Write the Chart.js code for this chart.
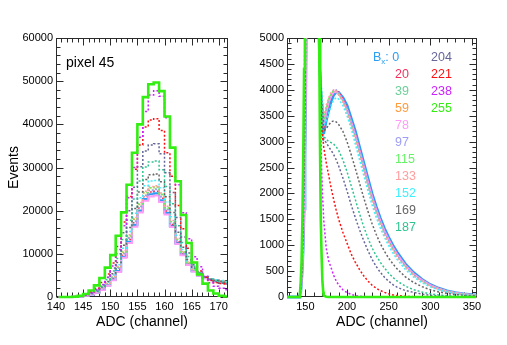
<!DOCTYPE html>
<html><head><meta charset="utf-8">
<script src="https://cdn.jsdelivr.net/npm/chart.js@4/dist/chart.umd.min.js"></script>
<style>
html,body{margin:0;padding:0;background:#fff;width:507px;height:345px;overflow:hidden;font-family:"Liberation Sans",Arial,Helvetica,sans-serif}
#c1{position:absolute;left:0;top:0}
#c2{position:absolute;left:250px;top:0}
.t{position:absolute;line-height:1;white-space:nowrap}
</style></head><body>
<canvas id="c1" width="250" height="345"></canvas>
<canvas id="c2" width="257" height="345"></canvas>
<div id="overlay"></div>
<script>
// ---------------- DATA ----------------
const bxLabels = ["0","20","39","59","78","97","115","133","152","169","187","204","221","238","255"];
// bin centres of the zoomed (left) histogram, ADC channels
const leftX = [140.5,141.5,142.5,143.5,144.5,145.5,146.5,147.5,148.5,149.5,150.5,151.5,152.5,153.5,154.5,155.5,156.5,157.5,158.5,159.5,160.5,161.5,162.5,163.5,164.5,165.5,166.5,167.5,168.5,169.5,170.5,171.5];
// tail sampling points of the full-range (right) histogram
const tailX = [172,175,178,181,184,187,190,195,200,205,210,215,220,225,230,235,240,245,250,255,260,270,280,290,300,310,320,330,340,350,355];
const startX = [128];
const startY = [0];

const left_b0   = [0,0,0,50,100,300,600,1000,1700,2700,4000,6000,9300,12800,16700,20000,22700,23800,24000,22400,19500,16500,12500,9800,7500,6000,5000,4400,4000,3800,3600,3400];
const left_b20  = [0,0,0,50,120,320,650,1100,1800,2900,4300,6400,9700,13300,17200,20600,23200,24300,24500,22900,19900,16800,12800,10000,7700,6100,5100,4500,4100,3800,3600,3400];
const left_b39  = [0,0,0,60,130,330,680,1150,1900,3000,4500,6700,10100,13700,17600,21000,23600,24800,25000,23300,20300,17100,13100,10200,7800,6200,5100,4500,4100,3900,3700,3500];
const left_b59  = [0,0,0,60,130,340,700,1200,1950,3100,4600,6900,10300,14000,18000,21400,24100,25300,25500,23700,20600,17400,13300,10300,7900,6300,5200,4600,4100,3900,3700,3500];
const left_b78  = [0,0,0,50,100,290,580,980,1650,2600,3900,5800,9100,12500,16300,19600,22300,23300,23500,22000,19100,16200,12300,9700,7400,5900,4900,4300,3950,3750,3550,3350];
const left_b97  = [0,0,0,60,120,320,660,1120,1870,2950,4450,6650,10000,13600,17500,20900,23500,24700,24900,23200,20200,17000,13000,10100,7800,6200,5100,4500,4100,3900,3700,3500];
const left_b115 = [0,0,0,60,140,350,720,1220,2000,3150,4700,7000,10500,14200,18200,21600,24200,25300,25500,23800,20700,17500,13400,10400,8000,6300,5200,4600,4100,3900,3700,3500];
const left_b133 = [0,0,0,60,140,360,740,1250,2050,3200,4800,7100,10700,14400,18400,21900,24500,25600,25800,24100,21000,17700,13600,10500,8100,6400,5300,4600,4200,3900,3700,3500];
const left_b152 = [0,0,0,60,150,380,780,1320,2200,3400,5100,7500,11300,15200,19400,23000,25800,26900,27000,25300,22000,18600,14300,11000,8400,6600,5400,4700,4200,4000,3800,3600];
const left_b169 = [0,0,0,70,160,400,830,1400,2300,3600,5400,8000,12000,16100,20500,24300,27200,28300,28500,26700,23200,19600,15000,11500,8700,6700,5400,4600,4100,3800,3600,3400];
const left_b187 = [0,0,0,70,180,440,910,1550,2550,4000,6000,8900,13300,17800,22700,26900,30100,31300,31500,29500,25600,21600,16500,12600,9400,7100,5600,4700,4100,3700,3400,3200];
const left_b204 = [0,0,0,80,200,500,1020,1750,2850,4500,6700,10000,14900,20000,25400,30200,33800,35200,35500,33200,28800,24200,18400,13900,10200,7500,5800,4700,4000,3500,3200,3000];
const left_b221 = [0,0,0,90,230,580,1200,2050,3350,5300,7900,11700,17400,23300,29600,35200,39400,41000,41300,38600,33400,28000,21200,15800,11300,8000,6000,4600,3800,3300,3100,3000];
const left_b238 = [0,0,0,40,150,400,900,1700,2900,4600,7200,11000,16500,23000,30000,37000,43000,46800,47800,46500,41500,34500,26000,19500,13500,9300,7000,4800,3300,2500,2000,1700];
const left_b255 = [0,0,0,50,300,700,1500,2700,4400,6800,9700,14200,19600,26000,33400,40000,46300,49300,49700,47700,41800,34600,26800,19000,12500,8000,5200,3100,1500,800,300,100];

const tail_b0   = [3150,3400,3600,3780,3900,3950,3950,3850,3700,3450,3200,2900,2600,2300,2000,1750,1520,1320,1150,1000,870,640,470,340,240,170,120,85,60,45,40];
const tail_b20  = [3250,3500,3700,3850,3950,3980,3950,3830,3650,3400,3150,2850,2550,2250,1950,1700,1480,1280,1120,970,840,620,450,330,235,165,115,80,55,40,35];
const tail_b39  = [3300,3550,3750,3880,3950,3950,3900,3780,3600,3350,3100,2800,2500,2200,1900,1650,1440,1250,1090,940,810,600,440,320,225,160,110,78,55,40,35];
const tail_b59  = [3350,3600,3780,3900,3970,3980,3930,3800,3620,3370,3100,2800,2500,2200,1920,1670,1450,1260,1100,950,820,600,440,320,225,160,110,78,55,40,35];
const tail_b78  = [3300,3550,3750,3880,3950,3960,3920,3800,3620,3380,3120,2830,2530,2230,1940,1690,1470,1270,1110,960,830,610,445,325,230,162,112,80,56,41,36];
const tail_b97  = [3350,3600,3800,3920,4000,4000,3950,3820,3630,3380,3110,2810,2510,2210,1920,1670,1450,1250,1090,940,810,595,435,315,222,158,110,77,54,40,34];
const tail_b115 = [3400,3650,3820,3930,3980,3970,3920,3780,3580,3330,3060,2760,2460,2160,1880,1630,1410,1220,1060,910,790,580,420,305,215,152,106,74,52,38,33];
const tail_b133 = [3450,3700,3850,3950,4000,3980,3920,3770,3560,3300,3030,2730,2430,2140,1860,1610,1390,1200,1040,895,775,570,412,300,210,148,103,72,50,37,32];
const tail_b152 = [3300,3400,3550,3700,3800,3850,3820,3700,3500,3250,2950,2650,2350,2060,1780,1540,1330,1150,990,850,730,530,385,275,195,138,96,67,47,34,30];
const tail_b169 = [3200,3250,3320,3380,3400,3380,3330,3200,3000,2750,2480,2200,1920,1660,1420,1210,1030,880,750,640,545,390,280,200,140,98,68,48,34,25,22];
const tail_b187 = [3100,3050,3000,2980,2950,2900,2830,2650,2420,2150,1880,1610,1360,1140,950,800,670,560,460,380,310,210,140,95,62,40,25,16,10,7,6];
const tail_b204 = [3050,2980,2900,2830,2750,2650,2530,2300,2050,1780,1530,1300,1090,900,730,590,475,380,305,240,190,125,90,55,33,20,12,8,5,3,3];
const tail_b221 = [2900,2600,2350,2100,1880,1680,1500,1250,1040,830,670,530,410,310,230,170,125,90,60,40,28,13,6,3,1,0,0,0,0,0,0];
const tail_b238 = [1500,950,700,560,420,310,230,140,85,50,28,15,8,5,3,2,1,0,0,0,0,0,0,0,0,0,0,0,0,0,0];
const tail_b255 = [30,5,0,0,0,0,0,0,0,0,0,0,0,0,0,0,0,0,0,0,0,0,0,0,0,0,0,0,0,0,0];

const leftSeries = [left_b0,left_b20,left_b39,left_b59,left_b78,left_b97,left_b115,left_b133,left_b152,left_b169,left_b187,left_b204,left_b221,left_b238,left_b255];
const tailSeries = [tail_b0,tail_b20,tail_b39,tail_b59,tail_b78,tail_b97,tail_b115,tail_b133,tail_b152,tail_b169,tail_b187,tail_b204,tail_b221,tail_b238,tail_b255];

const leftXTicks = [140,145,150,155,160,165,170];
const rightXTicks = [150,200,250,300,350];

// ---------------- STYLE ----------------
const FONT = "'Liberation Sans', Arial, Helvetica, sans-serif";
Chart.defaults.font.family = FONT;
const colors = ["#2a9df4","#f5305c","#6ccf98","#ff9b3d","#ff9cf8","#9d9df6","#66f266","#ff9e9e","#3ff0ff","#666666","#2fc391","#666699","#ff1010","#cc22ff","#33ee11"];
const solid = {0:true, 4:true, 14:true};
function lineStyle(i, right) {
  if (i === 14) return {borderWidth: 2.6, borderDash: []};
  if (i === 0) return {borderWidth: right ? 2.8 : 2.2, borderDash: []};
  if (i === 4) return {borderWidth: 2, borderDash: []};
  return {borderWidth: 1.5, borderDash: [2, 2]};
}

const frameTicks = {
  id: 'frameTicks',
  beforeDatasetsDraw(chart, args, o) {
    const {ctx, chartArea: a} = chart;
    const x = chart.scales.x, y = chart.scales.y;
    ctx.save();
    ctx.strokeStyle = '#2a2a2a';
    ctx.lineWidth = 1;
    const L = Math.round(a.left) + 0.5, R = Math.round(a.right) - 0.5, T = Math.round(a.top) + 0.5, B = Math.round(a.bottom) - 0.5;
    ctx.strokeRect(L, T, R - L, B - T);
    ctx.beginPath();
    const isMajor = (v, m) => Math.abs(v / m - Math.round(v / m)) < 1e-6;
    const nx = Math.round((o.xTo - o.xFrom) / o.xMinor);
    for (let i = 0; i <= nx; i++) {
      const v = o.xFrom + i * o.xMinor;
      if (v < x.min || v > x.max) continue;
      const p = Math.round(x.getPixelForValue(v)) + 0.5;
      const len = isMajor(v, o.xMajor) ? o.majorLen : o.minorLen;
      ctx.moveTo(p, B); ctx.lineTo(p, B - len);
      ctx.moveTo(p, T); ctx.lineTo(p, T + len);
    }
    const ny = Math.round((o.yTo - o.yFrom) / o.yMinor);
    for (let i = 0; i <= ny; i++) {
      const v = o.yFrom + i * o.yMinor;
      const p = Math.round(y.getPixelForValue(v)) + 0.5;
      const len = isMajor(v, o.yMajor) ? o.majorLen : o.minorLen;
      ctx.moveTo(L, p); ctx.lineTo(L + len, p);
      ctx.moveTo(R, p); ctx.lineTo(R - len, p);
    }
    ctx.stroke();
    ctx.restore();
  }
};

// ---------------- LEFT CHART ----------------
const leftDatasets = leftSeries.map((arr, i) => Object.assign({
  label: bxLabels[i],
  data: leftX.map((xv, k) => ({x: xv, y: arr[k]})),
  borderColor: colors[i],
  pointRadius: 0,
  fill: false,
  stepped: 'middle',
  order: 14 - i,
  clip: {left: 0, top: 0, right: 0, bottom: 3}
}, lineStyle(i, false)));

new Chart(document.getElementById('c1'), {
  type: 'line',
  data: {datasets: leftDatasets},
  options: {
    responsive: false, animation: false, devicePixelRatio: 1,
    layout: {padding: {left: 0, top: 38, right: 22, bottom: 0}},
    plugins: {legend: {display: false}, tooltip: {enabled: false},
      frameTicks: {xFrom: 140, xTo: 171, xMinor: 1, xMajor: 5, yFrom: 0, yTo: 60000, yMinor: 2000, yMajor: 10000, majorLen: 7, minorLen: 4}},
    scales: {
      x: {type: 'linear', min: 140, max: 171.7,
        grid: {display: false, drawTicks: false}, border: {display: false},
        afterBuildTicks: s => { s.ticks = leftXTicks.map(v => ({value: v})); },
        ticks: {autoSkip: false, maxRotation: 0, padding: 3, color: '#000', font: {size: 11}, callback: v => String(v)},
        title: {display: true, text: 'ADC (channel)', color: '#000', font: {size: 14}, padding: {top: 0, bottom: 14}},
        afterFit: s => { s.height = 48; }
      },
      y: {type: 'linear', min: 0, max: 60000,
        grid: {display: false, drawTicks: false}, border: {display: false},
        ticks: {stepSize: 10000, padding: 3, color: '#000', font: {size: 11}, callback: v => String(v)},
        title: {display: true, text: 'Events', color: '#000', font: {size: 14}, padding: {top: 6, bottom: 0}},
        afterFit: s => { s.width = 56; }
      }
    }
  },
  plugins: [frameTicks]
});

// ---------------- RIGHT CHART ----------------
const rightXAll = startX.concat(leftX, tailX);
const rightDatasets = leftSeries.map((arr, i) => {
  const ys = startY.concat(arr, tailSeries[i]);
  return Object.assign({
    label: bxLabels[i],
    data: rightXAll.map((xv, k) => ({x: xv, y: ys[k]})),
    borderColor: colors[i],
    pointRadius: 0,
    fill: false,
    order: 14 - i,
    clip: {left: 0, top: 0, right: 0, bottom: 3}
  }, lineStyle(i, true));
});

new Chart(document.getElementById('c2'), {
  type: 'line',
  data: {datasets: rightDatasets},
  options: {
    responsive: false, animation: false, devicePixelRatio: 1,
    layout: {padding: {left: 0, top: 38, right: 30, bottom: 0}},
    plugins: {legend: {display: false}, tooltip: {enabled: false},
      frameTicks: {xFrom: 130, xTo: 350, xMinor: 10, xMajor: 50, yFrom: 0, yTo: 5000, yMinor: 100, yMajor: 500, majorLen: 7, minorLen: 4}},
    scales: {
      x: {type: 'linear', min: 128, max: 356,
        grid: {display: false, drawTicks: false}, border: {display: false},
        afterBuildTicks: s => { s.ticks = rightXTicks.map(v => ({value: v})); },
        ticks: {autoSkip: false, maxRotation: 0, padding: 3, color: '#000', font: {size: 11}, callback: v => String(v)},
        title: {display: true, text: 'ADC (channel)', color: '#000', font: {size: 14}, padding: {top: 0, bottom: 14}},
        afterFit: s => { s.height = 48; }
      },
      y: {type: 'linear', min: 0, max: 5000,
        grid: {display: false, drawTicks: false}, border: {display: false},
        ticks: {stepSize: 500, padding: 3, color: '#000', font: {size: 11}, callback: v => String(v)},
        afterFit: s => { s.width = 37; }
      }
    }
  },
  plugins: [frameTicks]
});

// ---------------- TEXT OVERLAYS ----------------
const ov = document.getElementById('overlay');
function addText(html, left, baseline, size, color) {
  const d = document.createElement('div');
  d.className = 't';
  d.innerHTML = html;
  d.style.left = left + 'px';
  d.style.top = (baseline - 0.8465 * size) + 'px';
  d.style.fontSize = size + 'px';
  d.style.color = color;
  ov.appendChild(d);
}
addText('pixel 45', 66, 66.7, 14, '#000');
bxLabels.forEach((lab, i) => {
  let left, row;
  if (i === 0) { left = 373; row = 0; }
  else if (i <= 10) { left = 395; row = i; }
  else { left = 431; row = i - 11; }
  const html = i === 0 ? 'B<span style="font-size:8px;position:relative;top:3px">x</span>: 0' : lab;
  addText(html, left, 61.7 + 16.95 * row, 12.5, colors[i]);
});
</script>
</body></html>
